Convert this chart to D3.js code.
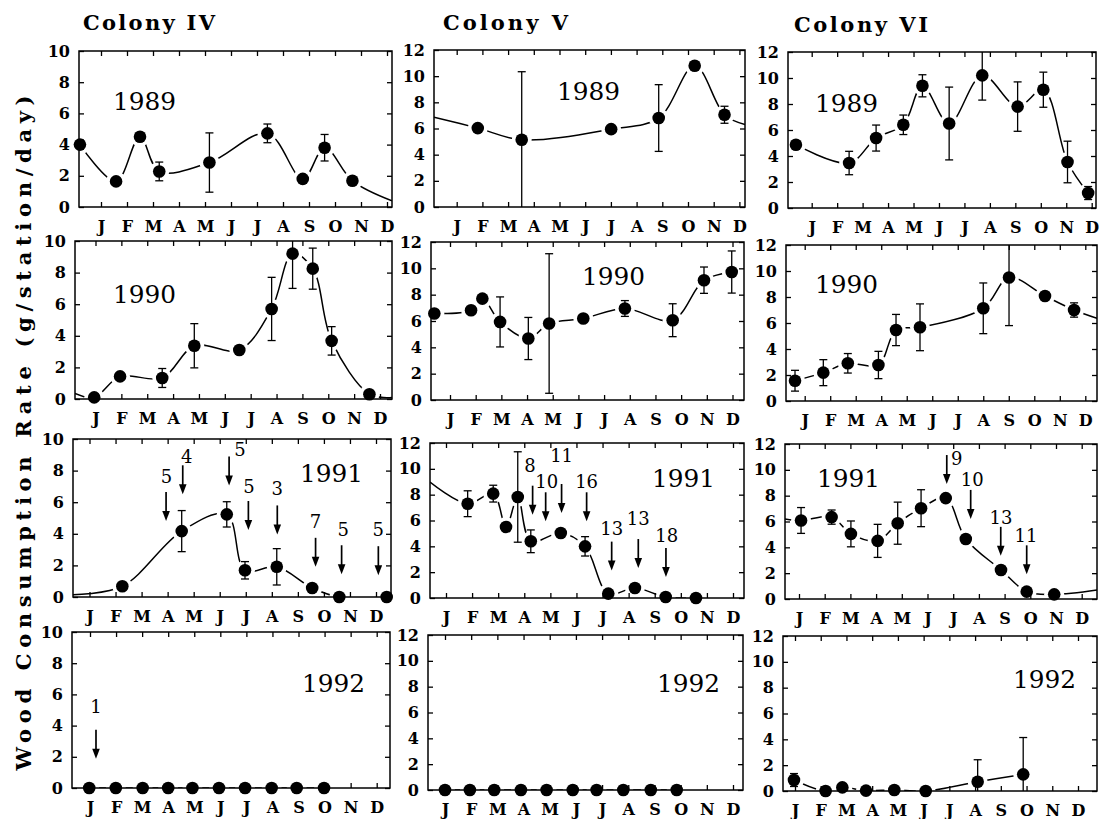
<!DOCTYPE html>
<html>
<head>
<meta charset="utf-8">
<script src="https://cdn.jsdelivr.net/npm/d3@7"></script>
<style>
  body { margin: 0; background: #fff; }
</style>
</head>
<body>
<svg id="chart" width="1106" height="819"></svg>
<script>
/*
  Wood consumption, colonies IV-VI, 1989-1992
*/

var months = ["J", "F", "M", "A", "M", "J", "J", "A", "S", "O", "N", "D"];
var colonies = ["Colony IV", "Colony V", "Colony VI"];
var years = ["1989", "1990", "1991", "1992"];
var yMaxByColony = [10, 12, 12];
var yTicksIV = [0, 2, 4, 6, 8, 10];
var yTicksVVI = [0, 2, 4, 6, 8, 10, 12];
var yTitle = "Wood Consumption Rate (g/station/day)";

// [month (0 = J tick, 11 = D tick), rate, error]
var iv1989 = [[-0.81, 4.0, 0.3], [0.58, 1.64, 0], [1.5, 4.5, 0], [2.24, 2.28, 0.6], [4.17, 2.85, 1.9], [6.4, 4.72, 0.6], [7.76, 1.8, 0], [8.6, 3.8, 0.85], [9.67, 1.68, 0]];
var v1989 = [[0.82, 6.03, 0], [2.53, 5.14, 5.2], [6.01, 5.95, 0], [7.86, 6.8, 2.55], [9.26, 10.8, 0], [10.42, 7.05, 0.65]];
var vi1989 = [[-0.62, 4.87, 0.2], [1.47, 3.46, 0.9], [2.53, 5.38, 1.0], [3.6, 6.4, 0.75], [4.35, 9.4, 0.85], [5.4, 6.5, 2.8], [6.7, 10.2, 1.9], [8.09, 7.8, 1.9], [9.1, 9.1, 1.35], [10.05, 3.54, 1.6], [10.86, 1.15, 0.5]];

var iv1990 = [[-0.05, 0.1, 0], [0.95, 1.43, 0], [2.58, 1.33, 0.6], [3.82, 3.37, 1.4], [5.56, 3.1, 0], [6.81, 5.7, 2.0], [7.62, 9.2, 2.2], [8.4, 8.25, 1.3], [9.13, 3.68, 0.9], [10.59, 0.3, 0]];
var v1990 = [[-0.61, 6.57, 0], [0.82, 6.82, 0], [1.26, 7.7, 0], [1.95, 5.93, 1.9], [3.05, 4.67, 1.6], [3.86, 5.81, 5.3], [5.19, 6.19, 0], [6.81, 6.95, 0.6], [8.67, 6.06, 1.25], [9.89, 9.1, 1.0], [10.97, 9.72, 1.6]];
var vi1990 = [[-0.38, 1.56, 0.8], [0.73, 2.18, 1.0], [1.69, 2.9, 0.75], [2.89, 2.77, 1.05], [3.58, 5.46, 1.2], [4.52, 5.67, 1.8], [7.0, 7.13, 1.95], [8.01, 9.5, 3.7], [9.42, 8.08, 0], [10.56, 7.0, 0.55]];

var iv1991 = [[1.26, 0.68, 0], [3.54, 4.17, 1.3], [5.27, 5.23, 0.8], [5.97, 1.69, 0.55], [7.19, 1.91, 1.15], [8.55, 0.57, 0.15], [9.59, 0, 0], [11.41, 0, 0]];
var v1991 = [[0.83, 7.3, 1.0], [1.81, 8.08, 0.65], [2.3, 5.5, 0], [2.75, 7.82, 3.5], [3.25, 4.39, 0.88], [4.4, 5.03, 0], [5.33, 4.0, 0.75], [6.22, 0.34, 0], [7.24, 0.77, 0], [8.42, 0.08, 0], [9.58, 0, 0]];
var vi1991 = [[0.08, 6.08, 1.0], [1.27, 6.34, 0.55], [2.02, 5.04, 1.0], [3.06, 4.5, 1.28], [3.84, 5.87, 1.63], [4.75, 7.03, 1.43], [5.71, 7.81, 0], [6.49, 4.65, 0], [7.86, 2.25, 0], [8.86, 0.57, 0], [9.93, 0.36, 0]];

var iv1992 = [[-0.03, 0, 0], [0.99, 0, 0], [2.02, 0, 0], [3.0, 0, 0], [3.93, 0, 0], [4.95, 0, 0], [5.95, 0, 0], [6.97, 0, 0], [7.93, 0, 0], [8.98, 0, 0]];
var v1992 = [[0, 0, 0], [0.95, 0, 0], [1.88, 0, 0], [2.9, 0, 0], [3.88, 0, 0], [4.88, 0, 0], [5.79, 0, 0], [6.81, 0, 0], [7.86, 0, 0], [8.85, 0, 0]];
var vi1992 = [[-0.04, 0.85, 0.5], [1.19, 0, 0], [1.84, 0.28, 0], [2.76, 0.03, 0], [3.86, 0.08, 0], [5.08, 0, 0], [7.1, 0.72, 1.7], [8.87, 1.29, 2.85]];

// fitted curve value at the left / right frame edge (null = curve stops at the point)
var iv1989Ends = [null, 0.4];
var v1989Ends = [6.87, 6.3];
var iv1990Ends = [0.35, 0.1];
var vi1990Ends = [null, 6.36];
var iv1991Ends = [0.15, null];
var v1991Ends = [8.98, null];
var vi1991Ends = [6.2, 0.7];

// arrows: [month, tip value, label, label month, label value]
var arrowsIV1991 = [[2.94, 4.81, "5", 2.96, 7.2], [3.58, 6.5, "4", 3.73, 8.5], [5.36, 7.05, "5", 5.78, 8.93], [6.1, 4.24, "5", 6.12, 6.6], [7.21, 3.96, "3", 7.21, 6.45], [8.68, 1.91, "7", 8.68, 4.39], [9.68, 1.44, "5", 9.74, 3.85], [11.09, 1.38, "5", 11.09, 3.85]];
var arrowsV1991 = [[3.32, 6.45, "8", 3.22, 9.79], [3.82, 5.94, "10", 3.86, 8.55], [4.43, 6.58, "11", 4.43, 10.56], [5.39, 5.94, "16", 5.39, 8.55], [6.35, 2.12, "13", 6.35, 4.89], [7.37, 2.32, "13", 7.37, 5.67], [8.43, 1.63, "18", 8.46, 4.37]];
var arrowsVI1991 = [[5.75, 8.9, "9", 6.14, 10.41], [6.68, 6.2, "10", 6.74, 8.73], [7.85, 3.34, "13", 7.86, 5.8], [8.86, 1.91, "11", 8.83, 4.38]];
var arrowsIV1992 = [[0.23, 1.87, "1", 0.23, 4.8]];

// panel frames [left, top, right, bottom] by row, col (the scan is slightly skewed)
var boxes = [
  [[79, 51, 392, 207], [434, 50, 745, 207], [788, 52, 1096, 208]],
  [[75, 241, 392, 399], [431, 242, 744, 400], [786, 245, 1097, 401]],
  [[73, 439, 391, 597], [430, 443, 744, 598], [785, 444, 1097, 599]],
  [[72, 632, 390, 788], [428, 635, 743, 790], [783, 636, 1097, 791]]
];
// pixel position of the J and D ticks in each panel
var monthSpan = [
  [[101, 387], [456.7, 739.4], [811.7, 1091.7]],
  [[95.5, 380], [450, 732.5], [804.7, 1085.3]],
  [[89.5, 376], [446, 733], [799, 1081.7]],
  [[90, 376.7], [445, 733], [795, 1078]]
];

var panels = [
  {row: 0, col: 0, pts: iv1989, ends: iv1989Ends, yearAt: [34, 59]},
  {row: 0, col: 1, pts: v1989, ends: v1989Ends, yearAt: [123, 50]},
  {row: 0, col: 2, pts: vi1989, yearAt: [27, 60]},
  {row: 1, col: 0, pts: iv1990, ends: iv1990Ends, yearAt: [38, 62]},
  {row: 1, col: 1, pts: v1990, yearAt: [151, 43]},
  {row: 1, col: 2, pts: vi1990, ends: vi1990Ends, yearAt: [29, 48]},
  {row: 2, col: 0, pts: iv1991, ends: iv1991Ends, arrows: arrowsIV1991, yearAt: [227, 43]},
  {row: 2, col: 1, pts: v1991, ends: v1991Ends, arrows: arrowsV1991, yearAt: [222, 44]},
  {row: 2, col: 2, pts: vi1991, ends: vi1991Ends, arrows: arrowsVI1991, yearAt: [32, 43]},
  {row: 3, col: 0, pts: iv1992, arrows: arrowsIV1992, yearAt: [230, 60]},
  {row: 3, col: 1, pts: v1992, yearAt: [229, 57]},
  {row: 3, col: 2, pts: vi1992, yearAt: [230, 52]}
];

var serif = "'DejaVu Serif', 'Liberation Serif', serif";
var svg = d3.select("#chart");

function drawPanel(p){
  var b = boxes[p.row][p.col],
      x = d3.scaleLinear().domain([0, 11]).range(monthSpan[p.row][p.col]),
      y = d3.scaleLinear().domain([0, yMaxByColony[p.col]]).range([b[3], b[1]]),
      yTicks = p.col == 0 ? yTicksIV : yTicksVVI,
      clipId = "clip-" + p.row + "-" + p.col,
      g = svg.append("g");

  g.append("clipPath").attr("id", clipId)
    .append("rect")
      .attr("x", b[0]).attr("y", b[1])
      .attr("width", b[2] - b[0]).attr("height", b[3] - b[1]);

  //Curve through the points, run out to the frame where the original does
  var curvePts = p.pts.map(function(d){ return [d[0], d[1]]; });
  if(p.ends && p.ends[0] != null) curvePts.unshift([x.invert(b[0]), p.ends[0]]);
  if(p.ends && p.ends[1] != null) curvePts.push([x.invert(b[2]), p.ends[1]]);

  var line = d3.line()
    .x(function(d){ return x(d[0]); })
    .y(function(d){ return y(d[1]); })
    .curve(d3.curveCatmullRom.alpha(0.5));

  g.append("path")
    .datum(curvePts)
    .attr("clip-path", "url(#" + clipId + ")")
    .attr("d", line)
    .attr("fill", "none")
    .attr("stroke", "#000")
    .attr("stroke-width", 1.5);

  //White halo so the curve stops short of each marker
  g.selectAll(".halo")
    .data(p.pts)
    .enter().append("circle")
      .attr("class", "halo")
      .attr("cx", function(d){ return x(d[0]); })
      .attr("cy", function(d){ return y(d[1]); })
      .attr("r", 10)
      .attr("fill", "#fff");

  //Error bars
  var errs = g.append("g").attr("clip-path", "url(#" + clipId + ")")
    .selectAll("g")
    .data(p.pts.filter(function(d){ return d[2] > 0; }))
    .enter().append("g")
      .attr("stroke", "#000")
      .attr("stroke-width", 1.3);

  errs.append("line")
    .attr("x1", function(d){ return x(d[0]); })
    .attr("x2", function(d){ return x(d[0]); })
    .attr("y1", function(d){ return y(d[1] - d[2]); })
    .attr("y2", function(d){ return y(d[1] + d[2]); });
  errs.append("line")
    .attr("x1", function(d){ return x(d[0]) - 4; })
    .attr("x2", function(d){ return x(d[0]) + 4; })
    .attr("y1", function(d){ return y(d[1] + d[2]); })
    .attr("y2", function(d){ return y(d[1] + d[2]); });
  errs.append("line")
    .attr("x1", function(d){ return x(d[0]) - 4; })
    .attr("x2", function(d){ return x(d[0]) + 4; })
    .attr("y1", function(d){ return y(d[1] - d[2]); })
    .attr("y2", function(d){ return y(d[1] - d[2]); });

  //Axes, all ticks pointing inward
  var monthTicks = d3.range(12);

  g.append("g")
    .attr("class", "axis")
    .attr("transform", "translate(" + b[0] + ",0)")
    .call(d3.axisLeft(y).tickValues(yTicks).tickSize(-5).tickPadding(9));
  g.append("g")
    .attr("class", "axis")
    .attr("transform", "translate(" + b[2] + ",0)")
    .call(d3.axisRight(y).tickValues(yTicks).tickSize(-5).tickFormat(""));
  g.append("g")
    .attr("class", "axis")
    .attr("transform", "translate(0," + b[1] + ")")
    .call(d3.axisTop(x).tickValues(monthTicks).tickSize(-5).tickFormat(""));
  g.append("g")
    .attr("class", "axis")
    .attr("transform", "translate(0," + b[3] + ")")
    .call(d3.axisBottom(x).tickValues(monthTicks).tickSize(-5).tickPadding(14)
      .tickFormat(function(d){ return months[d]; }));

  g.selectAll(".axis .domain").remove();
  g.selectAll(".axis line").attr("stroke", "#000").attr("stroke-width", 1.3);
  g.selectAll(".axis text")
    .attr("fill", "#000")
    .style("font-family", serif)
    .style("font-weight", "bold")
    .style("font-size", "16px");

  g.append("rect")
    .attr("x", b[0]).attr("y", b[1])
    .attr("width", b[2] - b[0]).attr("height", b[3] - b[1])
    .attr("fill", "none")
    .attr("stroke", "#000")
    .attr("stroke-width", 1.5);

  //Markers
  g.selectAll(".dot")
    .data(p.pts)
    .enter().append("circle")
      .attr("class", "dot")
      .attr("cx", function(d){ return x(d[0]); })
      .attr("cy", function(d){ return y(d[1]); })
      .attr("r", 6.3)
      .attr("fill", "#000");

  //Arrows with their counts
  if(p.arrows){
    var arr = g.selectAll(".arrow")
      .data(p.arrows)
      .enter().append("g")
        .attr("class", "arrow");

    arr.append("line")
      .attr("x1", function(d){ return x(d[0]); })
      .attr("x2", function(d){ return x(d[0]); })
      .attr("y1", function(d){ return y(d[1]) - 29; })
      .attr("y2", function(d){ return y(d[1]) - 8; })
      .attr("stroke", "#000")
      .attr("stroke-width", 1.7);
    arr.append("path")
      .attr("d", function(d){
        var ax = x(d[0]), ay = y(d[1]);
        return "M" + ax + "," + ay + "L" + (ax - 3.8) + "," + (ay - 10) + "L" + (ax + 3.8) + "," + (ay - 10) + "Z";
      })
      .attr("fill", "#000");
    arr.append("text")
      .attr("x", function(d){ return x(d[3]); })
      .attr("y", function(d){ return y(d[4]); })
      .attr("text-anchor", "middle")
      .style("font-family", serif)
      .style("font-size", "18px")
      .text(function(d){ return d[2]; });
  }

  //Year
  g.append("text")
    .attr("x", b[0] + p.yearAt[0])
    .attr("y", b[1] + p.yearAt[1])
    .attr("textLength", 63)
    .attr("lengthAdjust", "spacingAndGlyphs")
    .style("font-family", serif)
    .style("font-size", "24px")
    .text(years[p.row]);
}

panels.forEach(drawPanel);

//Column titles
var titleAt = [[83, 30, 132], [443, 30, 125], [794, 32, 134]];
svg.selectAll(".colTitle")
  .data(colonies)
  .enter().append("text")
    .attr("class", "colTitle")
    .attr("x", function(d, i){ return titleAt[i][0]; })
    .attr("y", function(d, i){ return titleAt[i][1]; })
    .attr("textLength", function(d, i){ return titleAt[i][2]; })
    .attr("lengthAdjust", "spacing")
    .style("font-family", serif)
    .style("font-weight", "bold")
    .style("font-size", "21px")
    .text(function(d){ return d; });

//Y title
svg.append("text")
  .attr("transform", "translate(31,433) rotate(-90)")
  .attr("text-anchor", "middle")
  .attr("textLength", 675)
  .attr("lengthAdjust", "spacing")
  .style("font-family", serif)
  .style("font-weight", "bold")
  .style("font-size", "21px")
  .text(yTitle);
</script>
</body>
</html>
